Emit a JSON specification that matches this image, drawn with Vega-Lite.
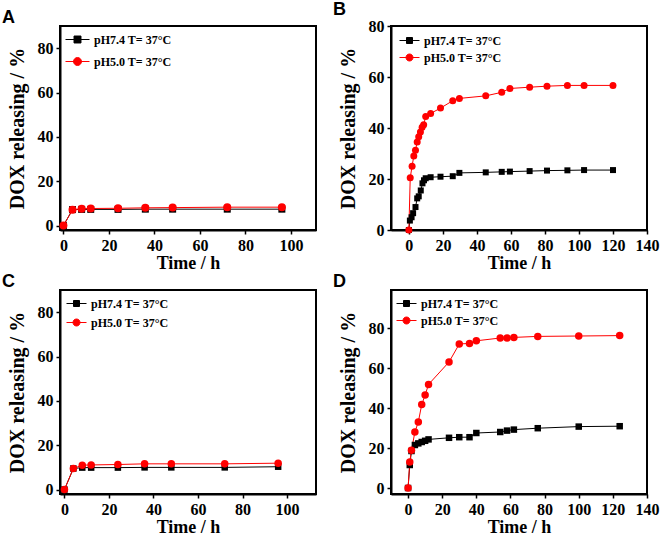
{
  "$schema": "https://vega.github.io/schema/vega-lite/v6.json",
  "padding": {"left": 1, "top": 0, "right": 0, "bottom": 0},
  "columns": 2,
  "spacing": {"row": -1, "column": 15},
  "datasets": {
    "A": [
      {"t": 0, "v": 0, "s": "pH7.4 T= 37°C"}, {"t": 4, "v": 7.2, "s": "pH7.4 T= 37°C"}, {"t": 8, "v": 7.3, "s": "pH7.4 T= 37°C"}, {"t": 12, "v": 7.3, "s": "pH7.4 T= 37°C"}, {"t": 24, "v": 7.3, "s": "pH7.4 T= 37°C"}, {"t": 36, "v": 7.4, "s": "pH7.4 T= 37°C"}, {"t": 48, "v": 7.4, "s": "pH7.4 T= 37°C"}, {"t": 72, "v": 7.4, "s": "pH7.4 T= 37°C"}, {"t": 96, "v": 7.4, "s": "pH7.4 T= 37°C"},
      {"t": 0, "v": 0, "s": "pH5.0 T= 37°C"}, {"t": 4, "v": 7.1, "s": "pH5.0 T= 37°C"}, {"t": 8, "v": 7.6, "s": "pH5.0 T= 37°C"}, {"t": 12, "v": 7.7, "s": "pH5.0 T= 37°C"}, {"t": 24, "v": 7.8, "s": "pH5.0 T= 37°C"}, {"t": 36, "v": 8.0, "s": "pH5.0 T= 37°C"}, {"t": 48, "v": 8.1, "s": "pH5.0 T= 37°C"}, {"t": 72, "v": 8.3, "s": "pH5.0 T= 37°C"}, {"t": 96, "v": 8.3, "s": "pH5.0 T= 37°C"}
    ],
    "B": [
      {"t": 0, "v": 0, "s": "pH7.4 T= 37°C"}, {"t": 0.6, "v": 3.7, "s": "pH7.4 T= 37°C"}, {"t": 1.6, "v": 5, "s": "pH7.4 T= 37°C"}, {"t": 2.5, "v": 6.6, "s": "pH7.4 T= 37°C"}, {"t": 3.9, "v": 9, "s": "pH7.4 T= 37°C"}, {"t": 4.9, "v": 12.4, "s": "pH7.4 T= 37°C"}, {"t": 5.8, "v": 13.2, "s": "pH7.4 T= 37°C"}, {"t": 7, "v": 15.5, "s": "pH7.4 T= 37°C"}, {"t": 8, "v": 18.3, "s": "pH7.4 T= 37°C"}, {"t": 8.9, "v": 19.5, "s": "pH7.4 T= 37°C"}, {"t": 9.9, "v": 20.3, "s": "pH7.4 T= 37°C"}, {"t": 12.8, "v": 20.7, "s": "pH7.4 T= 37°C"}, {"t": 18.6, "v": 20.9, "s": "pH7.4 T= 37°C"}, {"t": 25.8, "v": 21.1, "s": "pH7.4 T= 37°C"}, {"t": 29.7, "v": 22.4, "s": "pH7.4 T= 37°C"}, {"t": 45.2, "v": 22.6, "s": "pH7.4 T= 37°C"}, {"t": 54.6, "v": 22.8, "s": "pH7.4 T= 37°C"}, {"t": 59.4, "v": 22.9, "s": "pH7.4 T= 37°C"}, {"t": 71, "v": 23.1, "s": "pH7.4 T= 37°C"}, {"t": 81.2, "v": 23.3, "s": "pH7.4 T= 37°C"}, {"t": 93.2, "v": 23.4, "s": "pH7.4 T= 37°C"}, {"t": 103, "v": 23.5, "s": "pH7.4 T= 37°C"}, {"t": 120, "v": 23.5, "s": "pH7.4 T= 37°C"},
      {"t": 0, "v": 0, "s": "pH5.0 T= 37°C"}, {"t": 0.8, "v": 20.5, "s": "pH5.0 T= 37°C"}, {"t": 1.9, "v": 25, "s": "pH5.0 T= 37°C"}, {"t": 2.9, "v": 29, "s": "pH5.0 T= 37°C"}, {"t": 3.9, "v": 31.3, "s": "pH5.0 T= 37°C"}, {"t": 4.9, "v": 34.5, "s": "pH5.0 T= 37°C"}, {"t": 5.8, "v": 36.6, "s": "pH5.0 T= 37°C"}, {"t": 6.8, "v": 38.4, "s": "pH5.0 T= 37°C"}, {"t": 7.8, "v": 40.3, "s": "pH5.0 T= 37°C"}, {"t": 8.7, "v": 41.3, "s": "pH5.0 T= 37°C"}, {"t": 9.9, "v": 44.5, "s": "pH5.0 T= 37°C"}, {"t": 12.8, "v": 45.7, "s": "pH5.0 T= 37°C"}, {"t": 18.6, "v": 47.8, "s": "pH5.0 T= 37°C"}, {"t": 25.8, "v": 50.7, "s": "pH5.0 T= 37°C"}, {"t": 29.7, "v": 51.6, "s": "pH5.0 T= 37°C"}, {"t": 45.2, "v": 52.6, "s": "pH5.0 T= 37°C"}, {"t": 54.6, "v": 54, "s": "pH5.0 T= 37°C"}, {"t": 59.4, "v": 55.5, "s": "pH5.0 T= 37°C"}, {"t": 71, "v": 56, "s": "pH5.0 T= 37°C"}, {"t": 81.2, "v": 56.4, "s": "pH5.0 T= 37°C"}, {"t": 93.2, "v": 56.7, "s": "pH5.0 T= 37°C"}, {"t": 103, "v": 56.7, "s": "pH5.0 T= 37°C"}, {"t": 120, "v": 56.7, "s": "pH5.0 T= 37°C"}
    ],
    "C": [
      {"t": 0, "v": 0, "s": "pH7.4 T= 37°C"}, {"t": 4, "v": 9.5, "s": "pH7.4 T= 37°C"}, {"t": 8, "v": 9.9, "s": "pH7.4 T= 37°C"}, {"t": 12, "v": 9.9, "s": "pH7.4 T= 37°C"}, {"t": 24, "v": 9.9, "s": "pH7.4 T= 37°C"}, {"t": 36, "v": 10, "s": "pH7.4 T= 37°C"}, {"t": 48, "v": 10, "s": "pH7.4 T= 37°C"}, {"t": 72, "v": 10, "s": "pH7.4 T= 37°C"}, {"t": 96, "v": 10.3, "s": "pH7.4 T= 37°C"},
      {"t": 0, "v": 0, "s": "pH5.0 T= 37°C"}, {"t": 4, "v": 9.5, "s": "pH5.0 T= 37°C"}, {"t": 8, "v": 11, "s": "pH5.0 T= 37°C"}, {"t": 12, "v": 11.1, "s": "pH5.0 T= 37°C"}, {"t": 24, "v": 11.3, "s": "pH5.0 T= 37°C"}, {"t": 36, "v": 11.6, "s": "pH5.0 T= 37°C"}, {"t": 48, "v": 11.6, "s": "pH5.0 T= 37°C"}, {"t": 72, "v": 11.6, "s": "pH5.0 T= 37°C"}, {"t": 96, "v": 11.9, "s": "pH5.0 T= 37°C"}
    ],
    "D": [
      {"t": 0, "v": 0, "s": "pH7.4 T= 37°C"}, {"t": 1, "v": 11.5, "s": "pH7.4 T= 37°C"}, {"t": 2, "v": 18.5, "s": "pH7.4 T= 37°C"}, {"t": 4, "v": 21.5, "s": "pH7.4 T= 37°C"}, {"t": 6, "v": 22.3, "s": "pH7.4 T= 37°C"}, {"t": 8, "v": 23, "s": "pH7.4 T= 37°C"}, {"t": 10, "v": 23.6, "s": "pH7.4 T= 37°C"}, {"t": 12, "v": 24.3, "s": "pH7.4 T= 37°C"}, {"t": 24, "v": 25.1, "s": "pH7.4 T= 37°C"}, {"t": 30, "v": 25.4, "s": "pH7.4 T= 37°C"}, {"t": 36, "v": 25.4, "s": "pH7.4 T= 37°C"}, {"t": 40, "v": 27.5, "s": "pH7.4 T= 37°C"}, {"t": 54, "v": 28, "s": "pH7.4 T= 37°C"}, {"t": 58, "v": 28.7, "s": "pH7.4 T= 37°C"}, {"t": 62, "v": 29.2, "s": "pH7.4 T= 37°C"}, {"t": 76, "v": 29.9, "s": "pH7.4 T= 37°C"}, {"t": 100, "v": 30.7, "s": "pH7.4 T= 37°C"}, {"t": 124, "v": 30.9, "s": "pH7.4 T= 37°C"},
      {"t": 0, "v": 0, "s": "pH5.0 T= 37°C"}, {"t": 1, "v": 13, "s": "pH5.0 T= 37°C"}, {"t": 2, "v": 18.9, "s": "pH5.0 T= 37°C"}, {"t": 4, "v": 28, "s": "pH5.0 T= 37°C"}, {"t": 6, "v": 33, "s": "pH5.0 T= 37°C"}, {"t": 8, "v": 41.7, "s": "pH5.0 T= 37°C"}, {"t": 10, "v": 46.5, "s": "pH5.0 T= 37°C"}, {"t": 12, "v": 51.8, "s": "pH5.0 T= 37°C"}, {"t": 24, "v": 63, "s": "pH5.0 T= 37°C"}, {"t": 30, "v": 72, "s": "pH5.0 T= 37°C"}, {"t": 36, "v": 72.3, "s": "pH5.0 T= 37°C"}, {"t": 40, "v": 73.6, "s": "pH5.0 T= 37°C"}, {"t": 54, "v": 75, "s": "pH5.0 T= 37°C"}, {"t": 58, "v": 75, "s": "pH5.0 T= 37°C"}, {"t": 62, "v": 75.3, "s": "pH5.0 T= 37°C"}, {"t": 76, "v": 75.8, "s": "pH5.0 T= 37°C"}, {"t": 100, "v": 76, "s": "pH5.0 T= 37°C"}, {"t": 124, "v": 76.2, "s": "pH5.0 T= 37°C"}
    ]
  },
  "concat": [
    {
      "data": {"name": "A"},
      "title": {"text": "A"},
      "width": 256, "height": 204,
      "encoding": {
        "x": {"field": "t", "type": "quantitative", "title": "Time / h", "scale": {"domain": [-1.5, 111], "nice": false}, "axis": {"values": [0, 20, 40, 60, 80, 100]}},
        "y": {"field": "v", "type": "quantitative", "title": "DOX releasing / %", "scale": {"domain": [-2, 90], "nice": false}, "axis": {"values": [0, 20, 40, 60, 80]}}
      },
      "layer": [
        {"transform": [{"filter": "datum.s == 'pH7.4 T= 37°C'"}], "mark": {"type": "line", "strokeWidth": 1, "color": "#000000"}},
        {"transform": [{"filter": "datum.s == 'pH5.0 T= 37°C'"}], "mark": {"type": "line", "strokeWidth": 1, "color": "#ff0000"}},
        {"transform": [{"filter": "datum.s == 'pH7.4 T= 37°C'"}], "mark": {"type": "point", "shape": "square", "filled": true, "opacity": 1, "size": 49, "color": "#000000"}},
        {"transform": [{"filter": "datum.s == 'pH5.0 T= 37°C'"}], "mark": {"type": "point", "shape": "circle", "filled": true, "opacity": 1, "size": 64, "color": "#ff0000"}},
        {"mark": {"type": "point", "filled": true, "size": 0},
         "encoding": {
           "shape": {"field": "s", "type": "nominal", "scale": {"domain": ["pH7.4 T= 37°C", "pH5.0 T= 37°C"], "range": ["M-1,0H1M-0.29,-0.29H0.29V0.29H-0.29Z", "M-1,0H1M-0.33,0A0.33,0.33,0,1,0,0.33,0A0.33,0.33,0,1,0,-0.33,0Z"]}, "legend": {"title": null, "orient": "none", "legendX": 5, "legendY": 1, "rowPadding": 3, "symbolSize": 576}},
           "fill": {"field": "s", "type": "nominal", "scale": {"domain": ["pH7.4 T= 37°C", "pH5.0 T= 37°C"], "range": ["#000000", "#ff0000"]}, "legend": {"title": null, "orient": "none", "legendX": 5, "legendY": 1, "rowPadding": 3, "symbolSize": 576}},
           "stroke": {"field": "s", "type": "nominal", "scale": {"domain": ["pH7.4 T= 37°C", "pH5.0 T= 37°C"], "range": ["#000000", "#ff0000"]}, "legend": {"title": null, "orient": "none", "legendX": 5, "legendY": 1, "rowPadding": 3, "symbolSize": 576}}
         }}
      ]
    },
    {
      "data": {"name": "B"},
      "title": {"text": "B"},
      "width": 256, "height": 204,
      "encoding": {
        "x": {"field": "t", "type": "quantitative", "title": "Time / h", "scale": {"domain": [-10.5, 140], "nice": false}, "axis": {"values": [0, 20, 40, 60, 80, 100, 120, 140]}},
        "y": {"field": "v", "type": "quantitative", "title": "DOX releasing / %", "scale": {"domain": [0, 80], "nice": false}, "axis": {"values": [0, 20, 40, 60, 80]}}
      },
      "layer": [
        {"transform": [{"filter": "datum.s == 'pH7.4 T= 37°C'"}], "mark": {"type": "line", "strokeWidth": 1, "color": "#000000"}},
        {"transform": [{"filter": "datum.s == 'pH5.0 T= 37°C'"}], "mark": {"type": "line", "strokeWidth": 1, "color": "#ff0000"}},
        {"transform": [{"filter": "datum.s == 'pH7.4 T= 37°C'"}], "mark": {"type": "point", "shape": "square", "filled": true, "opacity": 1, "size": 36, "color": "#000000"}},
        {"transform": [{"filter": "datum.s == 'pH5.0 T= 37°C'"}], "mark": {"type": "point", "shape": "circle", "filled": true, "opacity": 1, "size": 49, "color": "#ff0000"}},
        {"mark": {"type": "point", "filled": true, "size": 0},
         "encoding": {
           "shape": {"field": "s", "type": "nominal", "scale": {"domain": ["pH7.4 T= 37°C", "pH5.0 T= 37°C"], "range": ["M-1,0H1M-0.3,-0.3H0.3V0.3H-0.3Z", "M-1,0H1M-0.35,0A0.35,0.35,0,1,0,0.35,0A0.35,0.35,0,1,0,-0.35,0Z"]}, "legend": {"title": null, "orient": "none", "legendX": 8, "legendY": 4, "rowPadding": -2, "symbolSize": 400}},
           "fill": {"field": "s", "type": "nominal", "scale": {"domain": ["pH7.4 T= 37°C", "pH5.0 T= 37°C"], "range": ["#000000", "#ff0000"]}, "legend": {"title": null, "orient": "none", "legendX": 8, "legendY": 4, "rowPadding": -2, "symbolSize": 400}},
           "stroke": {"field": "s", "type": "nominal", "scale": {"domain": ["pH7.4 T= 37°C", "pH5.0 T= 37°C"], "range": ["#000000", "#ff0000"]}, "legend": {"title": null, "orient": "none", "legendX": 8, "legendY": 4, "rowPadding": -2, "symbolSize": 400}}
         }}
      ]
    },
    {
      "data": {"name": "C"},
      "title": {"text": "C"},
      "width": 256, "height": 204,
      "encoding": {
        "x": {"field": "t", "type": "quantitative", "title": "Time / h", "scale": {"domain": [-2, 113], "nice": false}, "axis": {"values": [0, 20, 40, 60, 80, 100]}},
        "y": {"field": "v", "type": "quantitative", "title": "DOX releasing / %", "scale": {"domain": [-2, 90], "nice": false}, "axis": {"values": [0, 20, 40, 60, 80]}}
      },
      "layer": [
        {"transform": [{"filter": "datum.s == 'pH7.4 T= 37°C'"}], "mark": {"type": "line", "strokeWidth": 1, "color": "#000000"}},
        {"transform": [{"filter": "datum.s == 'pH5.0 T= 37°C'"}], "mark": {"type": "line", "strokeWidth": 1, "color": "#ff0000"}},
        {"transform": [{"filter": "datum.s == 'pH7.4 T= 37°C'"}], "mark": {"type": "point", "shape": "square", "filled": true, "opacity": 1, "size": 42, "color": "#000000"}},
        {"transform": [{"filter": "datum.s == 'pH5.0 T= 37°C'"}], "mark": {"type": "point", "shape": "circle", "filled": true, "opacity": 1, "size": 56, "color": "#ff0000"}},
        {"mark": {"type": "point", "filled": true, "size": 0},
         "encoding": {
           "shape": {"field": "s", "type": "nominal", "scale": {"domain": ["pH7.4 T= 37°C", "pH5.0 T= 37°C"], "range": ["M-1,0H1M-0.3,-0.3H0.3V0.3H-0.3Z", "M-1,0H1M-0.35,0A0.35,0.35,0,1,0,0.35,0A0.35,0.35,0,1,0,-0.35,0Z"]}, "legend": {"title": null, "orient": "none", "legendX": 6, "legendY": 3, "rowPadding": 2, "symbolSize": 400}},
           "fill": {"field": "s", "type": "nominal", "scale": {"domain": ["pH7.4 T= 37°C", "pH5.0 T= 37°C"], "range": ["#000000", "#ff0000"]}, "legend": {"title": null, "orient": "none", "legendX": 6, "legendY": 3, "rowPadding": 2, "symbolSize": 400}},
           "stroke": {"field": "s", "type": "nominal", "scale": {"domain": ["pH7.4 T= 37°C", "pH5.0 T= 37°C"], "range": ["#000000", "#ff0000"]}, "legend": {"title": null, "orient": "none", "legendX": 6, "legendY": 3, "rowPadding": 2, "symbolSize": 400}}
         }}
      ]
    },
    {
      "data": {"name": "D"},
      "title": {"text": "D"},
      "width": 256, "height": 204,
      "encoding": {
        "x": {"field": "t", "type": "quantitative", "title": "Time / h", "scale": {"domain": [-10, 140], "nice": false}, "axis": {"values": [0, 20, 40, 60, 80, 100, 120, 140]}},
        "y": {"field": "v", "type": "quantitative", "title": "DOX releasing / %", "scale": {"domain": [-3, 99], "nice": false}, "axis": {"values": [0, 20, 40, 60, 80]}}
      },
      "layer": [
        {"transform": [{"filter": "datum.s == 'pH7.4 T= 37°C'"}], "mark": {"type": "line", "strokeWidth": 1, "color": "#000000"}},
        {"transform": [{"filter": "datum.s == 'pH5.0 T= 37°C'"}], "mark": {"type": "line", "strokeWidth": 1, "color": "#ff0000"}},
        {"transform": [{"filter": "datum.s == 'pH7.4 T= 37°C'"}], "mark": {"type": "point", "shape": "square", "filled": true, "opacity": 1, "size": 42, "color": "#000000"}},
        {"transform": [{"filter": "datum.s == 'pH5.0 T= 37°C'"}], "mark": {"type": "point", "shape": "circle", "filled": true, "opacity": 1, "size": 56, "color": "#ff0000"}},
        {"mark": {"type": "point", "filled": true, "size": 0},
         "encoding": {
           "shape": {"field": "s", "type": "nominal", "scale": {"domain": ["pH7.4 T= 37°C", "pH5.0 T= 37°C"], "range": ["M-1,0H1M-0.3,-0.3H0.3V0.3H-0.3Z", "M-1,0H1M-0.35,0A0.35,0.35,0,1,0,0.35,0A0.35,0.35,0,1,0,-0.35,0Z"]}, "legend": {"title": null, "orient": "none", "legendX": 5, "legendY": 3, "rowPadding": 0, "symbolSize": 400}},
           "fill": {"field": "s", "type": "nominal", "scale": {"domain": ["pH7.4 T= 37°C", "pH5.0 T= 37°C"], "range": ["#000000", "#ff0000"]}, "legend": {"title": null, "orient": "none", "legendX": 5, "legendY": 3, "rowPadding": 0, "symbolSize": 400}},
           "stroke": {"field": "s", "type": "nominal", "scale": {"domain": ["pH7.4 T= 37°C", "pH5.0 T= 37°C"], "range": ["#000000", "#ff0000"]}, "legend": {"title": null, "orient": "none", "legendX": 5, "legendY": 3, "rowPadding": 0, "symbolSize": 400}}
         }}
      ]
    }
  ],
  "resolve": {"scale": {"color": "independent", "shape": "independent", "fill": "independent", "stroke": "independent", "x": "independent", "y": "independent"}},
  "config": {
    "view": {"stroke": "#000000", "strokeWidth": 2},
    "title": {"anchor": "start", "frame": "bounds", "font": "Liberation Sans", "fontWeight": "bold", "fontSize": 18, "color": "#000000", "dx": -5, "offset": -1},
    "axis": {"grid": false, "domainColor": "#000000", "domainWidth": 2, "tickColor": "#000000", "tickWidth": 1.5, "tickSize": 4, "labelFont": "Liberation Serif", "labelFontWeight": "bold", "labelFontSize": 16, "labelColor": "#000000", "labelPadding": 3, "labelFlush": false, "labelOverlap": false, "titleFont": "Liberation Serif", "titleFontWeight": "bold", "titleColor": "#000000"},
    "axisX": {"titleFontSize": 18, "titlePadding": 1},
    "axisY": {"titleFontSize": 20, "titlePadding": 10},
    "legend": {"labelFont": "Liberation Serif", "labelFontWeight": "bold", "labelFontSize": 12, "labelColor": "#000000", "symbolStrokeWidth": 1, "symbolOpacity": 1, "padding": 0, "labelOffset": 4}
  }
}
